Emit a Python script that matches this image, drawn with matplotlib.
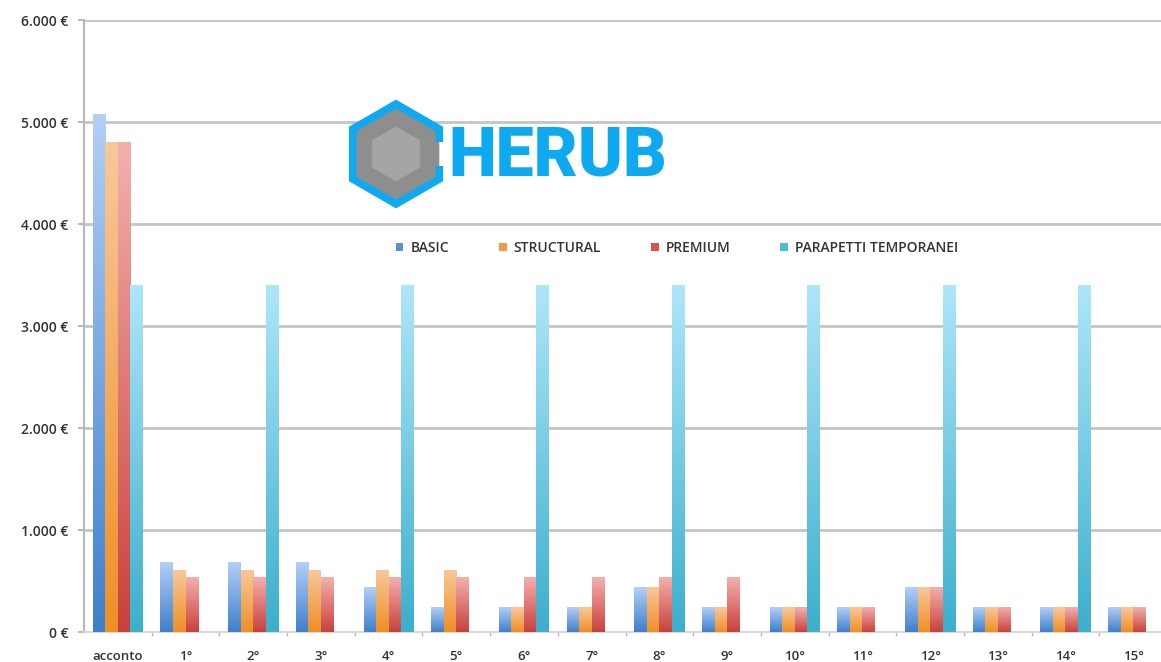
import matplotlib.pyplot as plt
import numpy as np
from matplotlib.colors import LinearSegmentedColormap
from matplotlib.patches import Polygon
from matplotlib.ticker import FuncFormatter, FixedLocator

# data (euro per installment)
categories = ['acconto', '1°', '2°', '3°', '4°', '5°', '6°', '7°',
              '8°', '9°', '10°', '11°', '12°', '13°', '14°', '15°']
basic = [5070, 680, 680, 680, 440, 240, 240, 240, 440, 240, 240, 240, 440, 240, 240, 240]
structural = [4800, 600, 600, 600, 600, 600, 240, 240, 440, 240, 240, 240, 440, 240, 240, 240]
premium = [4800, 530, 530, 530, 530, 530, 530, 530, 530, 530, 240, 240, 440, 240, 240, 240]
parapetti = [3400, 0, 3400, 0, 3400, 0, 3400, 0, 3400, 0, 3400, 0, 3400, 0, 3400, 0]

series_names = ['BASIC', 'STRUCTURAL', 'PREMIUM', 'PARAPETTI TEMPORANEI']
series = [basic, structural, premium, parapetti]
# (top, bottom) gradient colours
grad_colors = [('#b2cff7', '#3f7fcb'), ('#f8c89a', '#ef8f24'),
               ('#f4b0ae', '#c8413c'), ('#aee6fa', '#3cafcc')]
legend_colors = ['#5b8fd6', '#f39b3c', '#d9534f', '#4bbcd8']

W, H = 1161, 662
fig = plt.figure(figsize=(W / 100, H / 100), dpi=100)
ax = fig.add_axes([84 / W, 30 / H, 1083 / W, 612 / H])

x = np.arange(len(categories))
bw = 0.185
grad = np.linspace(0, 1, 256).reshape(-1, 1)

for i, (name, vals) in enumerate(zip(series_names, series)):
    offs = (i - 1.5) * bw
    bars = ax.bar(x + offs, vals, bw, color=legend_colors[i], label=name,
                  linewidth=0, zorder=2)
    cmap = LinearSegmentedColormap.from_list(name, [grad_colors[i][1], grad_colors[i][0]])
    for r in bars:
        h = r.get_height()
        if h <= 0:
            continue
        x0 = r.get_x()
        ax.imshow(grad, extent=[x0, x0 + r.get_width(), 0, h], origin='lower',
                  aspect='auto', cmap=cmap, interpolation='bicubic', zorder=3)

ax.set_xlim(-0.5, len(categories) - 0.5)
ax.set_ylim(0, 6000)
ax.set_yticks(np.arange(0, 6001, 1000))
ax.yaxis.set_major_formatter(FuncFormatter(lambda v, p: f"{v:,.0f} €".replace(',', '.')))
ax.set_xticks(x)
ax.set_xticklabels(categories)
ax.xaxis.set_minor_locator(FixedLocator(x[:-1] + 0.5))
ax.tick_params(axis='x', which='major', length=0, pad=13, labelsize=9.5, labelcolor='#333333')
ax.tick_params(axis='x', which='minor', length=3, color='#bbbbbb', width=1)
ax.tick_params(axis='y', length=4, color='#aaaaaa', width=1.2, pad=7,
               labelsize=10, labelcolor='#333333')
for lab in ax.get_yticklabels() + ax.get_xticklabels():
    lab.set_fontfamily('Open Sans')
    lab.set_fontweight('semibold')

ax.grid(axis='y', color='#c4c4c4', linewidth=2, zorder=0)
ax.set_axisbelow(True)
for s in ['top', 'right']:
    ax.spines[s].set_visible(False)
ax.spines['left'].set_color('#b8b8b8')
ax.spines['left'].set_linewidth(1.5)
ax.spines['bottom'].set_color('#d8d8d8')
ax.spines['bottom'].set_linewidth(1.5)

leg = fig.legend(loc='center', bbox_to_anchor=(677 / W, 1 - 248 / H), ncol=4,
                 frameon=False, handlelength=0.55, handleheight=0.55, handletextpad=0.5,
                 columnspacing=3.6, prop={'family': 'Open Sans', 'weight': 'semibold', 'size': 10})
for t in leg.get_texts():
    t.set_color('#333333')

# logo overlay in pixel coordinates
ov = fig.add_axes([0, 0, 1, 1], zorder=5)
ov.set_xlim(0, W)
ov.set_ylim(H, 0)
ov.axis('off')
cx, cy, r = 396, 154, 50
ang = np.deg2rad([90, 150, 210, 270, 330, 30])
verts = np.c_[cx + r * np.cos(ang), cy - r * np.sin(ang)]
ov.add_patch(Polygon(verts, closed=True, facecolor='#8e8e8e', edgecolor='none'))
inner = np.c_[cx + 0.55 * r * np.cos(ang), cy - 0.55 * r * np.sin(ang)]
ov.add_patch(Polygon(inner, closed=True, facecolor='#b5b5b5', edgecolor='none', alpha=0.6))
border = np.array([
    [verts[5][0], cy - 12], verts[5], verts[0], verts[1], verts[2], verts[3], verts[4],
    [verts[4][0], cy + 12]])
ov.plot(border[:, 0], border[:, 1], color='#0fa9f2', linewidth=5.5, solid_joinstyle='miter',
        solid_capstyle='butt')
ov.text(448, 157, 'HERUB', color='#0fa9f2', fontsize=49, fontweight='black',
        family='Roboto', ha='left', va='center')

fig.savefig('out.png', dpi=100)
